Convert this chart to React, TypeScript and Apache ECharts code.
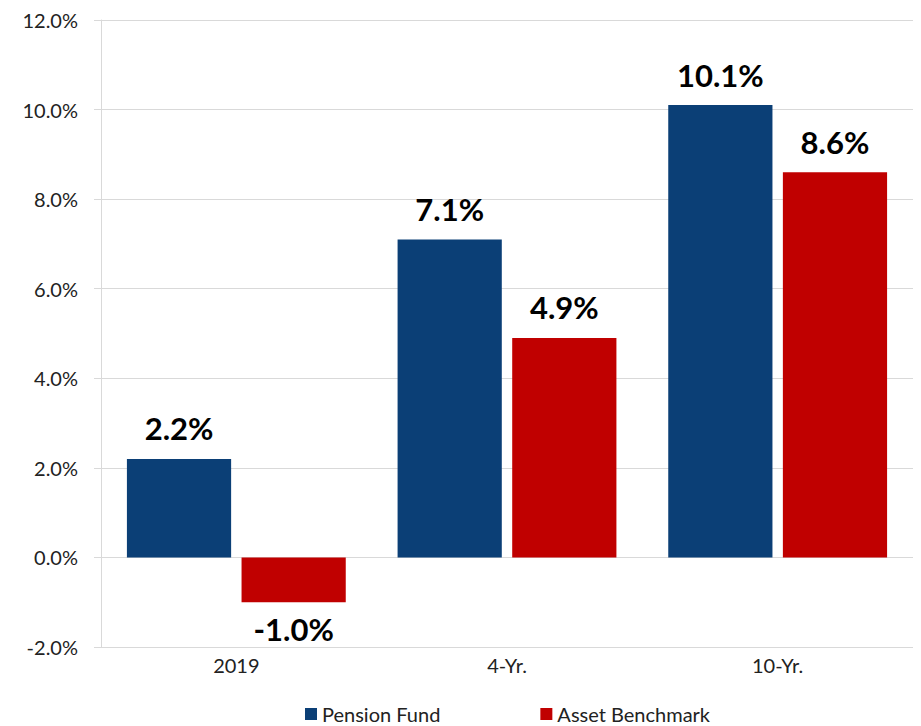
import React, { useEffect, useRef } from "react";
import * as echarts from "echarts";

const categories = ["2019", "4-Yr.", "10-Yr."];
const pensionFund = [2.2, 7.1, 10.1];
const assetBenchmark = [-1.0, 4.9, 8.6];
const seriesNames = ["Pension Fund", "Asset Benchmark"];

const FONT = "Lato, 'Open Sans', sans-serif";

function toData(values: number[]) {
  return values.map((v) => ({
    value: v,
    label: { position: v < 0 ? "bottom" : "top", distance: v < 0 ? 11 : 15 },
  }));
}

export default function App() {
  const ref = useRef<HTMLDivElement>(null);
  useEffect(() => {
    if (!ref.current) return;
    const chart = echarts.init(ref.current, undefined, { renderer: "svg" });
    const labelStyle = {
      show: true,
      fontSize: 31,
      fontWeight: "bold" as const,
      color: "#000",
      fontFamily: FONT,
      formatter: (p: any) => `${Number(p.value).toFixed(1)}%`,
    };
    chart.setOption({
      animation: false,
      grid: { left: 101, right: 8, top: 20, bottom: 79 },
      legend: {
        top: 704,
        left: 305,
        padding: 0,
        itemWidth: 12,
        itemHeight: 12,
        itemGap: 100,
        icon: "rect",
        textStyle: { fontSize: 20, lineHeight: 20, color: "#222", fontFamily: FONT },
        data: seriesNames,
      },
      xAxis: {
        type: "category",
        data: categories,
        axisLine: { show: false, onZero: false },
        axisTick: { show: false },
        axisLabel: { fontSize: 20, color: "#222", margin: 8, fontFamily: FONT },
      },
      yAxis: {
        type: "value",
        min: -2,
        max: 12,
        interval: 2,
        axisLine: { show: true, lineStyle: { color: "#d9d9d9" } },
        axisTick: { show: true, length: 7, lineStyle: { color: "#d9d9d9" } },
        splitLine: { show: true, lineStyle: { color: "#d9d9d9", width: 1 } },
        axisLabel: {
          fontSize: 20,
          color: "#222",
          margin: 23,
          fontFamily: FONT,
          formatter: (v: number) => `${v.toFixed(1)}%`,
        },
      },
      series: [
        {
          name: seriesNames[0],
          type: "bar",
          data: toData(pensionFund),
          itemStyle: { color: "#0B3F76" },
          barWidth: "38.5%",
          barGap: "10%",
          label: labelStyle,
        },
        {
          name: seriesNames[1],
          type: "bar",
          data: toData(assetBenchmark),
          itemStyle: { color: "#C00000" },
          barWidth: "38.5%",
          barGap: "10%",
          label: labelStyle,
        },
      ],
    });
    return () => chart.dispose();
  }, []);
  return (
    <div
      ref={ref}
      style={{ position: "absolute", left: 0, top: 0, width: 921, height: 726 }}
    />
  );
}
